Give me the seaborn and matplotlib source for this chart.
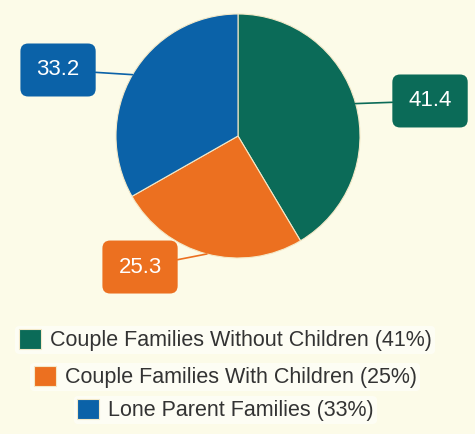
import seaborn as sns
import matplotlib.pyplot as plt
import numpy as np

# données du graphique
categories = ["Couple Families Without Children", "Couple Families With Children", "Lone Parent Families"]
values = [41.4, 25.3, 33.2]
colors = ["#0b6b58", "#ec7020", "#0b62a8"]

# positions des étiquettes (en unités du rayon)
label_pos = [(1.574, 0.287), (-0.803, -1.074), (-1.475, 0.541)]

bg = "#fcfbe8"

sns.set_theme(style="white")
plt.rcParams['font.family'] = ['Liberation Sans', 'DejaVu Sans']

fig = plt.figure(figsize=(4.75, 4.34), dpi=100, facecolor=bg)
ax = fig.add_axes([0, 134 / 434, 1, 300 / 434])
ax.set_facecolor(bg)

wedges, _ = ax.pie(values, colors=colors, startangle=90, counterclock=False,
                   radius=1, center=(0, 0),
                   wedgeprops=dict(linewidth=0.8, edgecolor="#f4e9c8"))

ax.set_xlim(-238 / 122, 237 / 122)
ax.set_ylim(-164 / 122, 136 / 122)
ax.set_aspect('auto')
ax.axis('off')

# étiquettes avec une ligne vers le bord du secteur
for w, v, c, pos in zip(wedges, values, colors, label_pos):
    ang = np.deg2rad((w.theta1 + w.theta2) / 2)
    edge = (np.cos(ang), np.sin(ang))
    ax.annotate(f"{v}", xy=edge, xytext=pos, ha="center", va="center",
                fontsize=16, color="white",
                bbox=dict(boxstyle="round,pad=0.72,rounding_size=0.35", fc=c, ec="none"),
                arrowprops=dict(arrowstyle="-", color=c, lw=1.2, shrinkA=0, shrinkB=0))

# légende centrée, une ligne par catégorie
legend_y = [1 - 340 / 434, 1 - 377 / 434, 1 - 410 / 434]
for w, name, v, y in zip(wedges, categories, values, legend_y):
    leg = fig.legend(handles=[w], labels=[f"{name} ({round(v)}%)"], loc="center",
                     bbox_to_anchor=(0.474, y), frameon=True, facecolor="white",
                     edgecolor="none", framealpha=0.55, fontsize=15.5,
                     handlelength=1.05, handleheight=1.05, handletextpad=0.4,
                     borderpad=0.15, labelcolor="#333333")

fig.savefig("out.png", dpi=100, facecolor=bg)
